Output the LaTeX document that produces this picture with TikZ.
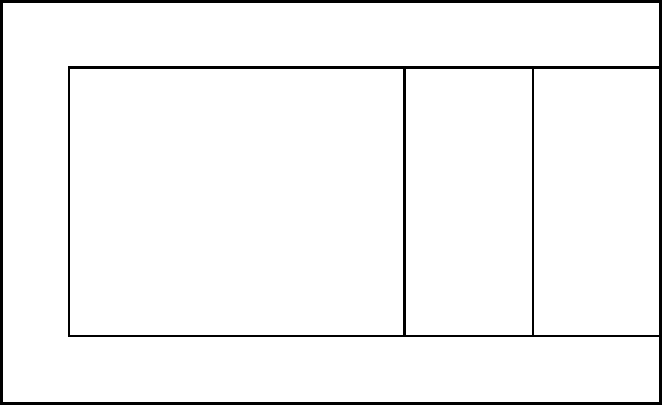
\documentclass[tikz,border=0pt]{standalone}
\begin{document}
\begin{tikzpicture}[x=1pt,y=-1pt,
  box/.style={draw=black,line width=2.5pt,inner sep=0pt,outer sep=0pt}]
\useasboundingbox (0,0) rectangle (662,405);
\draw[box] (1.5,1.5) rectangle (660.5,403.5);
\draw[box] (69,67.5) rectangle (404.5,336);
\draw[box] (404.5,67.5) rectangle (533,336);
\draw[box] (533,67.5) rectangle (660.5,336);
\end{tikzpicture}
\end{document}
